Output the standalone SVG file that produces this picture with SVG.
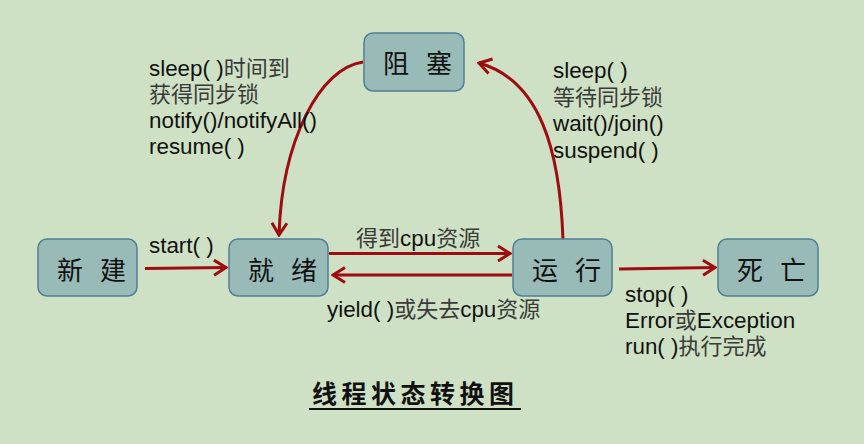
<svg xmlns="http://www.w3.org/2000/svg" width="864" height="444" viewBox="0 0 864 444">
<style>
.node rect{fill:#98BBB8;stroke:#4F7F97;stroke-width:1.5}
.node text{font-family:"Noto Sans CJK SC","Noto Sans CJK TC",sans-serif;font-size:26px;fill:#111;text-anchor:middle}
.edge{fill:none;stroke:#9E0B10;stroke-width:3;marker-end:url(#arr)}
.lbl{font-family:"Liberation Sans","Noto Sans CJK SC",sans-serif;font-size:22.4px;fill:#111}
.cn{fill:#3a3a3a;font-size:22px}
.title{font-family:"Noto Sans CJK SC",sans-serif;font-size:25px;font-weight:bold;fill:#111;letter-spacing:4.5px}
</style>
<defs>
<marker id="arr" viewBox="-15 -10 17 20" markerWidth="17" markerHeight="20" refX="0" refY="0" markerUnits="userSpaceOnUse" orient="auto">
<path d="M-12,-7.5 L0,0 L-12,7.5" fill="none" stroke="#9E0B10" stroke-width="3"/>
</marker>
</defs>
<rect width="864" height="444" fill="#CFE1C4"/>
<g id="connectors">
<path class="edge" d="M145,268.5 L226,267.5"/>
<path class="edge" d="M329,253.5 L510,253.5"/>
<path class="edge" d="M512,275 L333,275"/>
<path class="edge" d="M619,269 L715,267.5"/>
<path class="edge" d="M363,62 C320,68 282,140 279,235"/>
<path class="edge" d="M563,240 C560,150 540,80 479,63"/>
</g>
<g id="node-blocked" class="node"><rect x="364" y="33" width="100" height="58" rx="9"/><text x="396" y="73">阻</text><text x="439" y="73">塞</text></g>
<g id="node-new" class="node"><rect x="38" y="239" width="99" height="57" rx="9"/><text x="70" y="280">新</text><text x="113" y="280">建</text></g>
<g id="node-ready" class="node"><rect x="229" y="239" width="99" height="57" rx="9"/><text x="261" y="280">就</text><text x="304" y="280">绪</text></g>
<g id="node-running" class="node"><rect x="513" y="239" width="99" height="57" rx="9"/><text x="545" y="280">运</text><text x="588" y="280">行</text></g>
<g id="node-dead" class="node"><rect x="718" y="239" width="100" height="57" rx="9"/><text x="750" y="280">死</text><text x="793" y="280">亡</text></g>
<g id="labels">
<text class="lbl" x="149" y="76">sleep( )<tspan class="cn">时间到</tspan></text>
<text class="lbl" x="149" y="102"><tspan class="cn">获得同步锁</tspan></text>
<text class="lbl" x="149" y="128">notify()/notifyAll()</text>
<text class="lbl" x="149" y="154">resume( )</text>
<text class="lbl" x="553" y="78">sleep( )</text>
<text class="lbl" x="553" y="104.5"><tspan class="cn">等待同步锁</tspan></text>
<text class="lbl" x="553" y="131">wait()/join()</text>
<text class="lbl" x="553" y="157.5">suspend( )</text>
<text class="lbl" x="149" y="253">start( )</text>
<text class="lbl" x="356" y="246"><tspan class="cn">得到</tspan>cpu<tspan class="cn">资源</tspan></text>
<text class="lbl" x="327" y="317">yield( )<tspan class="cn">或失去</tspan>cpu<tspan class="cn">资源</tspan></text>
<text class="lbl" x="625" y="302">stop( )</text>
<text class="lbl" x="625" y="328">Error<tspan class="cn">或</tspan>Exception</text>
<text class="lbl" x="625" y="354">run( )<tspan class="cn">执行完成</tspan></text>
<text class="title" x="312" y="403">线程状态转换图</text>
<line x1="309" y1="409" x2="521" y2="409" stroke="#111" stroke-width="1.8"/>
</g>
</svg>
